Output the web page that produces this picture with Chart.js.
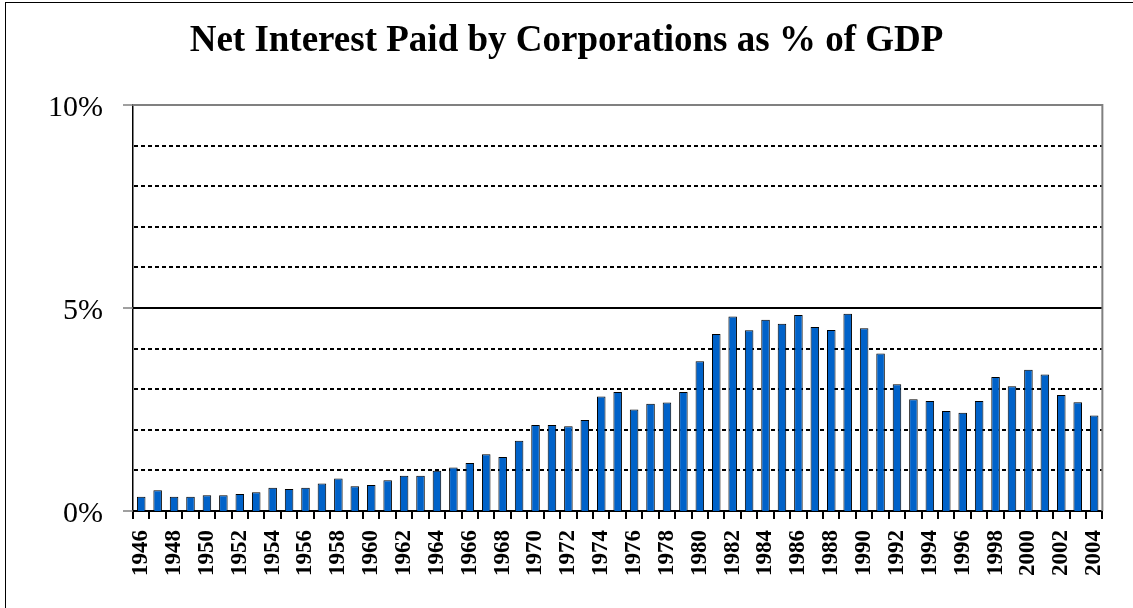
<!DOCTYPE html>
<html>
<head>
<meta charset="utf-8">
<script src="https://cdn.jsdelivr.net/npm/chart.js@4/dist/chart.umd.min.js"></script>
<style>
  html, body { margin: 0; padding: 0; background: #fff; }
  #wrap { width: 1133px; height: 608px; position: relative; }
</style>
</head>
<body>
<div id="wrap"><canvas id="chart" width="1133" height="608"></canvas></div>
<script>
// Years and net interest paid by corporations (% of GDP)
const years = [
  '1946', '1947', '1948', '1949', '1950', '1951', '1952', '1953', '1954', '1955',
  '1956', '1957', '1958', '1959', '1960', '1961', '1962', '1963', '1964', '1965',
  '1966', '1967', '1968', '1969', '1970', '1971', '1972', '1973', '1974', '1975',
  '1976', '1977', '1978', '1979', '1980', '1981', '1982', '1983', '1984', '1985',
  '1986', '1987', '1988', '1989', '1990', '1991', '1992', '1993', '1994', '1995',
  '1996', '1997', '1998', '1999', '2000', '2001', '2002', '2003', '2004'
];
const netInterest = [
  0.35, 0.51, 0.35, 0.35, 0.39, 0.39, 0.42, 0.46, 0.57, 0.54,
  0.57, 0.68, 0.80, 0.61, 0.64, 0.76, 0.87, 0.87, 0.99, 1.07,
  1.18, 1.40, 1.33, 1.73, 2.12, 2.12, 2.09, 2.24, 2.82, 2.93,
  2.50, 2.64, 2.67, 2.93, 3.69, 4.36, 4.79, 4.45, 4.71, 4.61,
  4.83, 4.53, 4.46, 4.86, 4.50, 3.88, 3.12, 2.75, 2.71, 2.46,
  2.42, 2.71, 3.30, 3.07, 3.48, 3.36, 2.86, 2.68, 2.35
];
const dottedLevels = [1, 2, 3, 4, 6, 7, 8, 9];
const labelledLevels = [0, 5, 10];

const FONT = '"Liberation Serif", "Times New Roman", serif';

// gridlines + frame drawn behind the bars
const plotFrame = {
  id: 'plotFrame',
  beforeDatasetsDraw(chart) {
    const { ctx, chartArea: a, scales: { y } } = chart;
    ctx.save();
    ctx.strokeStyle = '#000';
    ctx.lineWidth = 2;
    ctx.setLineDash([4, 3]);
    dottedLevels.forEach(v => {
      const py = Math.round(y.getPixelForValue(v));
      ctx.beginPath();
      ctx.moveTo(a.left + 1, py);
      ctx.lineTo(a.right, py);
      ctx.stroke();
    });
    ctx.setLineDash([]);
    // solid line at 5%
    const p5 = Math.round(y.getPixelForValue(5));
    ctx.beginPath();
    ctx.moveTo(a.left, p5);
    ctx.lineTo(a.right, p5);
    ctx.stroke();
    // top and right edges of the plot area
    ctx.strokeStyle = '#808080';
    const p10 = Math.round(y.getPixelForValue(10));
    ctx.beginPath();
    ctx.moveTo(a.left, p10);
    ctx.lineTo(a.right, p10);
    ctx.lineTo(a.right, a.bottom);
    ctx.stroke();
    ctx.restore();
  },
  afterDraw(chart) {
    const { ctx, chartArea: a, scales: { y } } = chart;
    ctx.save();
    // short tick marks on the value axis
    ctx.strokeStyle = '#808080';
    ctx.lineWidth = 1.5;
    labelledLevels.forEach(v => {
      const py = Math.round(y.getPixelForValue(v));
      ctx.beginPath();
      ctx.moveTo(a.left - 10, py);
      ctx.lineTo(a.left, py);
      ctx.stroke();
    });
    // outer frame
    ctx.strokeStyle = '#000';
    ctx.lineWidth = 1;
    ctx.strokeRect(5.5, 2.5, 1200, 700);
    ctx.restore();
  }
};

new Chart(document.getElementById('chart'), {
  type: 'bar',
  data: {
    labels: years,
    datasets: [{
      data: netInterest,
      backgroundColor: '#0062C9',
      borderColor: '#000',
      borderWidth: 1,
      barPercentage: 0.52,
      categoryPercentage: 1.0
    }]
  },
  options: {
    responsive: false,
    animation: false,
    layout: { padding: { left: 30, right: 30, top: 0, bottom: 0 } },
    plugins: {
      legend: { display: false },
      tooltip: { enabled: false },
      title: {
        display: true,
        text: 'Net Interest Paid by Corporations as % of GDP',
        color: '#000',
        font: { family: FONT, size: 37, weight: 'bold' },
        padding: { top: 19, bottom: 41.6 }
      }
    },
    scales: {
      x: {
        grid: {
          offset: true,
          drawOnChartArea: false,
          drawTicks: true,
          tickLength: 8,
          color: '#000',
          lineWidth: 2
        },
        border: { display: true, color: '#000', width: 2 },
        ticks: {
          autoSkip: false,
          minRotation: 90,
          maxRotation: 90,
          padding: 11,
          color: '#000',
          font: { family: FONT, size: 23, weight: 'bold' },
          callback(value, index) {
            return index % 2 === 0 ? this.getLabelForValue(value) : '';
          }
        },
        afterFit(scale) { scale.height = 97; }
      },
      y: {
        min: 0,
        max: 10,
        grid: { display: false },
        border: { display: true, color: '#000', width: 1.5 },
        ticks: {
          stepSize: 1,
          padding: 22,
          labelOffset: 3,
          color: '#000',
          font: { family: FONT, size: 30 },
          callback: v => (v % 5 === 0 ? v + '%' : '')
        },
        afterFit(scale) { scale.width = 103; }
      }
    }
  },
  plugins: [plotFrame]
});
</script>
</body>
</html>
